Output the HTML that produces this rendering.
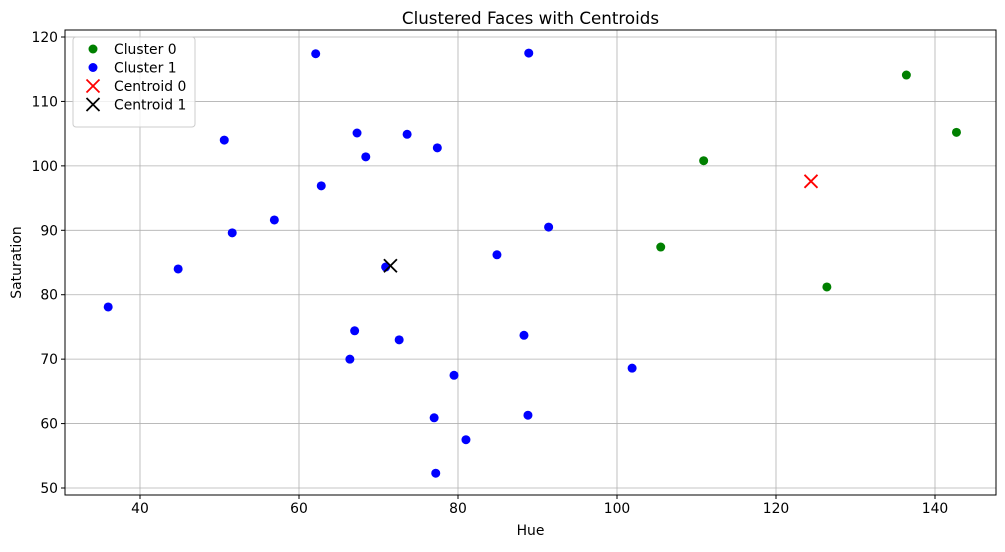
<!DOCTYPE html>
<html><head><meta charset="utf-8"><style>
body{margin:0;background:#fff;font-family:"Liberation Sans","DejaVu Sans",sans-serif}
svg text{font-family:"DejaVu Sans","Liberation Sans",sans-serif}
</style></head><body>
<svg id="chart" width="1005" height="547" xmlns="http://www.w3.org/2000/svg"></svg>
<script>
const cluster0X=[136.4,142.7,110.9,105.5,126.4];
const cluster0Y=[114.1,105.2,100.8,87.4,81.2];
const cluster1X=[62.1,88.9,50.6,67.3,73.6,77.4,68.4,62.8,56.9,51.6,91.4,44.8,84.9,70.9,36.0,67.0,88.3,72.6,66.4,101.9,79.5,77.0,88.8,81.0,77.2];
const cluster1Y=[117.4,117.5,104.0,105.1,104.9,102.8,101.4,96.9,91.6,89.6,90.5,84.0,86.2,84.3,78.1,74.4,73.7,73.0,70.0,68.6,67.5,60.9,61.3,57.5,52.3];
const centroidX=[124.4,71.5];
const centroidY=[97.6,84.5];
const xTicks=[40,60,80,100,120,140];
const yTicks=[50,60,70,80,90,100,110,120];
const NS="http://www.w3.org/2000/svg";
const svg=document.getElementById('chart');
const L=65,R=996,T=30,B=495;
function sx(v){return 140+(v-40)*7.95;}
function sy(v){return 37+(120-v)*6.443;}
function el(t,a,p){const e=document.createElementNS(NS,t);for(const k in a)e.setAttribute(k,a[k]);(p||svg).appendChild(e);return e;}
xTicks.forEach(v=>{const g=el('line',{x1:sx(v),x2:sx(v),y1:T,y2:B,stroke:'#b0b0b0','stroke-width':0.8});


el('line',{x1:sx(v),x2:sx(v),y1:B,y2:B+4,stroke:'#000'});
const t=el('text',{x:sx(v),y:B+18,'text-anchor':'middle','font-size':13.9});t.textContent=v;

});
yTicks.forEach(v=>{const g=el('line',{x1:L,x2:R,y1:sy(v),y2:sy(v),stroke:'#b0b0b0','stroke-width':0.8});


el('line',{x1:L-4,x2:L,y1:sy(v),y2:sy(v),stroke:'#000'});
const t=el('text',{x:L-7,y:sy(v)+5,'text-anchor':'end','font-size':13.9});t.textContent=v;

});
const fr=el('rect',{x:L,y:T,width:R-L,height:B-T,fill:'none',stroke:'#000','stroke-width':1});


cluster0X.forEach((x,i)=>{const c=el('circle',{cx:sx(x),cy:sy(cluster0Y[i]),r:4.5,fill:'green'});

});
cluster1X.forEach((x,i)=>{const c=el('circle',{cx:sx(x),cy:sy(cluster1Y[i]),r:4.5,fill:'blue'});

});
const ccol=['red','black'];
function cross(cx,cy,col,s){const g=el('g',{stroke:col,'stroke-width':1.8});el('line',{x1:cx-s,y1:cy-s,x2:cx+s,y2:cy+s},g);el('line',{x1:cx-s,y1:cy+s,x2:cx+s,y2:cy-s},g);return g;}
centroidX.forEach((x,i)=>{const g=cross(sx(x),sy(centroidY[i]),ccol[i],6.5);

});
const title=el('text',{x:(L+R)/2,y:24,'text-anchor':'middle','font-size':16.7});title.textContent='Clustered Faces with Centroids';


const xl=el('text',{x:(L+R)/2,y:535,'text-anchor':'middle','font-size':13.9});xl.textContent='Hue';


const yl=el('text',{x:21,y:(T+B)/2,'text-anchor':'middle','font-size':13.9,transform:`rotate(-90 21 ${(T+B)/2})`});yl.textContent='Saturation';


const lg=el('g',{});


el('rect',{x:73,y:37,width:122,height:90,rx:3,fill:'#fff','fill-opacity':0.8,stroke:'#ccc'},lg);
const labels=['Cluster 0','Cluster 1','Centroid 0','Centroid 1'];
labels.forEach((s,i)=>{const y=49+i*18.5;
const e=el('g',{},lg);


if(i<2)el('circle',{cx:93,cy:y,r:4.5,fill:i?'blue':'green'},e);else e.appendChild(cross(93,y,i==2?'red':'black',6.5));
const t=el('text',{x:114,y:y+5,'font-size':13.9},e);t.textContent=s;});
</script>
</body></html>
